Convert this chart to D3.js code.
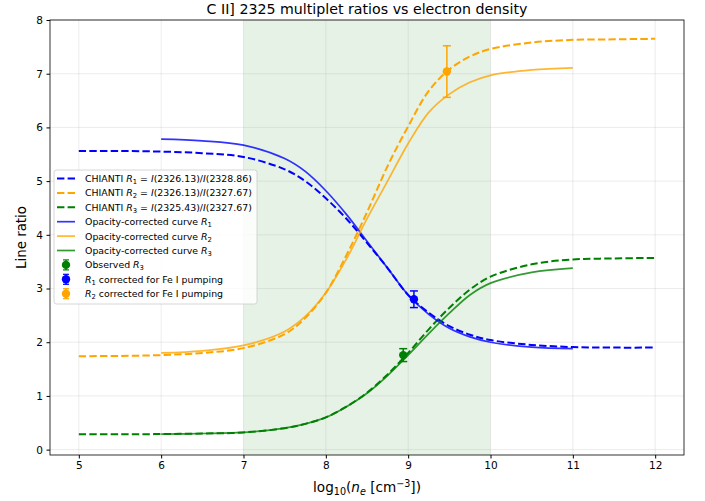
<!DOCTYPE html>
<html>
<head>
<meta charset="utf-8">
<script src="https://cdn.jsdelivr.net/npm/d3@7"></script>
<style>
  body { margin: 0; background: #fff; }
  text { font-family: "DejaVu Sans", sans-serif; fill: #000; }
</style>
</head>
<body>
<svg id="chart"></svg>
<script>
// log10 density grid for the CHIANTI curves and the opacity-corrected curves
const xChianti = [5, 5.5, 6, 6.5, 7, 7.5, 7.75, 8, 8.25, 8.5, 8.75, 9, 9.25, 9.5, 9.75, 10, 10.5, 11, 11.5, 12]
const r1Chianti = [5.56, 5.56, 5.55, 5.52, 5.45, 5.22, 5.0, 4.68, 4.3, 3.85, 3.38, 2.88, 2.55, 2.3, 2.14, 2.04, 1.95, 1.91, 1.90, 1.90]
const r2Chianti = [1.74, 1.745, 1.76, 1.8, 1.89, 2.15, 2.45, 2.92, 3.62, 4.42, 5.28, 6.02, 6.68, 7.08, 7.32, 7.46, 7.58, 7.63, 7.64, 7.65]
const r3Chianti = [0.285, 0.285, 0.29, 0.3, 0.32, 0.4, 0.48, 0.6, 0.8, 1.06, 1.4, 1.8, 2.24, 2.64, 2.98, 3.22, 3.45, 3.54, 3.56, 3.57]

const xCorr = [6, 6.5, 7, 7.5, 7.75, 8, 8.25, 8.5, 8.75, 9, 9.25, 9.5, 9.75, 10, 10.5, 11]
const r1Corr = [5.78, 5.75, 5.67, 5.42, 5.18, 4.82, 4.38, 3.88, 3.38, 2.88, 2.52, 2.26, 2.1, 2.0, 1.91, 1.88]
const r2Corr = [1.80, 1.84, 1.94, 2.2, 2.48, 2.92, 3.55, 4.3, 5.0, 5.7, 6.28, 6.62, 6.84, 6.97, 7.07, 7.11]
const r3Corr = [0.29, 0.3, 0.32, 0.4, 0.48, 0.6, 0.8, 1.05, 1.38, 1.76, 2.16, 2.54, 2.88, 3.1, 3.3, 3.38]

// measured points: observed R3, R1 and R2 corrected for Fe I pumping
const pointX = [8.94, 9.07, 9.47]
const pointY = [1.76, 2.80, 7.04]
const pointErr = [0.12, 0.155, 0.48]

const xTicks = [5, 6, 7, 8, 9, 10, 11, 12]
const yTicks = [0, 1, 2, 3, 4, 5, 6, 7, 8]
const shadeRange = [7, 10]

const width = 705
const height = 501
const margin = {left: 50, right: 21, top: 20, bottom: 46}

const svg = d3.select("#chart").attr("width", width).attr("height", height)

let x = d3.scaleLinear().domain([4.65, 12.35]).range([margin.left, width - margin.right])
let y = d3.scaleLinear().domain([-0.1, 8]).range([height - margin.bottom, margin.top])

// shaded density range
svg.append("rect")
   .attr("x", x(shadeRange[0]))
   .attr("y", margin.top)
   .attr("width", x(shadeRange[1]) - x(shadeRange[0]))
   .attr("height", y(-0.1) - y(8))
   .attr("fill", "green")
   .attr("fill-opacity", 0.1)

// grid lines
svg.append("g").selectAll("line").data(xTicks).enter().append("line")
   .attr("x1", d => x(d)).attr("x2", d => x(d))
   .attr("y1", margin.top).attr("y2", height - margin.bottom)
   .attr("stroke", "#b0b0b0").attr("stroke-opacity", 0.3).attr("stroke-width", 0.8)
svg.append("g").selectAll("line").data(yTicks).enter().append("line")
   .attr("y1", d => y(d)).attr("y2", d => y(d))
   .attr("x1", margin.left).attr("x2", width - margin.right)
   .attr("stroke", "#b0b0b0").attr("stroke-opacity", 0.3).attr("stroke-width", 0.8)

// axes
const xAxis = d3.axisBottom(x).tickValues(xTicks).tickSize(3.5).tickPadding(3.5).tickFormat(d3.format("d"))
const yAxis = d3.axisLeft(y).tickValues(yTicks).tickSize(3.5).tickPadding(3.5).tickFormat(d3.format("d"))

svg.append("g").attr("transform", `translate(0,${height - margin.bottom})`).call(xAxis)
   .call(g => g.select(".domain").remove())
   .selectAll("text").attr("font-size", 10.5).attr("font-family", "DejaVu Sans")
svg.append("g").attr("transform", `translate(${margin.left},0)`).call(yAxis)
   .call(g => g.select(".domain").remove())
   .selectAll("text").attr("font-size", 10.5).attr("font-family", "DejaVu Sans")

// curves
const series = [
    {xs: xChianti, ys: r1Chianti, color: "blue", dashed: true},
    {xs: xChianti, ys: r2Chianti, color: "orange", dashed: true},
    {xs: xChianti, ys: r3Chianti, color: "green", dashed: true},
    {xs: xCorr, ys: r1Corr, color: "blue", dashed: false},
    {xs: xCorr, ys: r2Corr, color: "orange", dashed: false},
    {xs: xCorr, ys: r3Corr, color: "green", dashed: false}
]

const line = d3.line().x(d => x(d[0])).y(d => y(d[1])).curve(d3.curveCatmullRom.alpha(0.5))

svg.append("g").selectAll("path").data(series).enter().append("path")
   .attr("d", s => line(s.xs.map((v, i) => [v, s.ys[i]])))
   .attr("fill", "none")
   .attr("stroke", s => s.color)
   .attr("stroke-width", s => s.dashed ? 2 : 1.7)
   .attr("stroke-opacity", s => s.dashed ? 1 : 0.8)
   .attr("stroke-dasharray", s => s.dashed ? "7.4,3.2" : null)

// error bar points
const pointColors = ["green", "blue", "orange"]
const pts = svg.append("g").selectAll("g").data(pointX).enter().append("g")
pts.append("line")
   .attr("x1", (d, i) => x(d)).attr("x2", (d, i) => x(d))
   .attr("y1", (d, i) => y(pointY[i] - pointErr[i])).attr("y2", (d, i) => y(pointY[i] + pointErr[i]))
   .attr("stroke", (d, i) => pointColors[i]).attr("stroke-width", 1.5)
pts.each(function(d, i) {
    [pointY[i] - pointErr[i], pointY[i] + pointErr[i]].forEach(v => {
        d3.select(this).append("line")
          .attr("x1", x(d) - 4).attr("x2", x(d) + 4)
          .attr("y1", y(v)).attr("y2", y(v))
          .attr("stroke", pointColors[i]).attr("stroke-width", 1.5)
    })
})
pts.append("circle")
   .attr("cx", d => x(d)).attr("cy", (d, i) => y(pointY[i]))
   .attr("r", 4.2).attr("fill", (d, i) => pointColors[i])

// frame
svg.append("rect")
   .attr("x", margin.left).attr("y", margin.top)
   .attr("width", width - margin.left - margin.right)
   .attr("height", height - margin.top - margin.bottom)
   .attr("fill", "none").attr("stroke", "#000").attr("stroke-width", 0.8)

// title and labels
svg.append("text")
   .attr("x", (margin.left + width - margin.right) / 2).attr("y", 14)
   .attr("text-anchor", "middle").attr("font-size", 14.2)
   .text("C II] 2325 multiplet ratios vs electron density")

let xl = svg.append("text")
   .attr("x", (margin.left + width - margin.right) / 2).attr("y", 492)
   .attr("text-anchor", "middle").attr("font-size", 13.6)
xl.append("tspan").text("log")
xl.append("tspan").attr("font-size", 9.6).attr("dy", 3).text("10")
xl.append("tspan").attr("dy", -3).text("(")
xl.append("tspan").attr("font-style", "italic").text("n")
xl.append("tspan").attr("font-style", "italic").attr("font-size", 9.6).attr("dy", 3).text("e")
xl.append("tspan").attr("dy", -3).text(" [cm")
xl.append("tspan").attr("font-size", 9.6).attr("dy", -5.5).text("\u22123")
xl.append("tspan").attr("dy", 5.5).text("])")

svg.append("text")
   .attr("transform", `translate(26,${(margin.top + height - margin.bottom) / 2}) rotate(-90)`)
   .attr("text-anchor", "middle").attr("font-size", 13.4)
   .text("Line ratio")

// legend
const legendLabels = [
    {kind: "dash", color: "blue", parts: [["CHIANTI ", ""], ["R", "i"], ["1", "sub"], [" = ", ""], ["I", "i"], ["(2326.13)/", ""], ["I", "i"], ["(2328.86)", ""]]},
    {kind: "dash", color: "orange", parts: [["CHIANTI ", ""], ["R", "i"], ["2", "sub"], [" = ", ""], ["I", "i"], ["(2326.13)/", ""], ["I", "i"], ["(2327.67)", ""]]},
    {kind: "dash", color: "green", parts: [["CHIANTI ", ""], ["R", "i"], ["3", "sub"], [" = ", ""], ["I", "i"], ["(2325.43)/", ""], ["I", "i"], ["(2327.67)", ""]]},
    {kind: "solid", color: "blue", parts: [["Opacity-corrected curve ", ""], ["R", "i"], ["1", "sub"]]},
    {kind: "solid", color: "orange", parts: [["Opacity-corrected curve ", ""], ["R", "i"], ["2", "sub"]]},
    {kind: "solid", color: "green", parts: [["Opacity-corrected curve ", ""], ["R", "i"], ["3", "sub"]]},
    {kind: "point", color: "green", parts: [["Observed ", ""], ["R", "i"], ["3", "sub"]]},
    {kind: "point", color: "blue", parts: [["R", "i"], ["1", "sub"], [" corrected for Fe I pumping", ""]]},
    {kind: "point", color: "orange", parts: [["R", "i"], ["2", "sub"], [" corrected for Fe I pumping", ""]]}
]

const legX = 54, legY = 170, rowH = 14.4
let legend = svg.append("g").attr("id", "legend")
legend.append("rect")
   .attr("x", legX).attr("y", legY).attr("width", 203).attr("height", 134)
   .attr("rx", 2.5).attr("fill", "#fff").attr("fill-opacity", 0.8)
   .attr("stroke", "#cccccc").attr("stroke-width", 0.8)

legendLabels.forEach((d, i) => {
    let cy = legY + 8.5 + i * rowH
    let row = legend.append("g")
    if (d.kind === "point") {
        row.append("line").attr("x1", 66).attr("x2", 66).attr("y1", cy - 5).attr("y2", cy + 5)
           .attr("stroke", d.color).attr("stroke-width", 1.5)
        row.append("line").attr("x1", 63).attr("x2", 69).attr("y1", cy - 5).attr("y2", cy - 5)
           .attr("stroke", d.color).attr("stroke-width", 1.2)
        row.append("line").attr("x1", 63).attr("x2", 69).attr("y1", cy + 5).attr("y2", cy + 5)
           .attr("stroke", d.color).attr("stroke-width", 1.2)
        row.append("circle").attr("cx", 66).attr("cy", cy).attr("r", 4.2).attr("fill", d.color)
    } else {
        row.append("line").attr("x1", 57).attr("x2", 75).attr("y1", cy).attr("y2", cy)
           .attr("stroke", d.color)
           .attr("stroke-width", d.kind === "dash" ? 2 : 1.7)
           .attr("stroke-opacity", d.kind === "dash" ? 1 : 0.8)
           .attr("stroke-dasharray", d.kind === "dash" ? "7.4,3.2" : null)
    }
    let t = row.append("text").attr("x", 85).attr("y", cy + 3.4).attr("font-size", 9.4)
    let shift = 0
    d.parts.forEach(p => {
        let sp = t.append("tspan").text(p[0])
        if (p[1] === "i") sp.attr("font-style", "italic")
        if (p[1] === "sub") { sp.attr("font-size", 6.8).attr("dy", 2); shift = 2 }
        else if (shift) { sp.attr("dy", -shift); shift = 0 }
    })
})
</script>
</body>
</html>
